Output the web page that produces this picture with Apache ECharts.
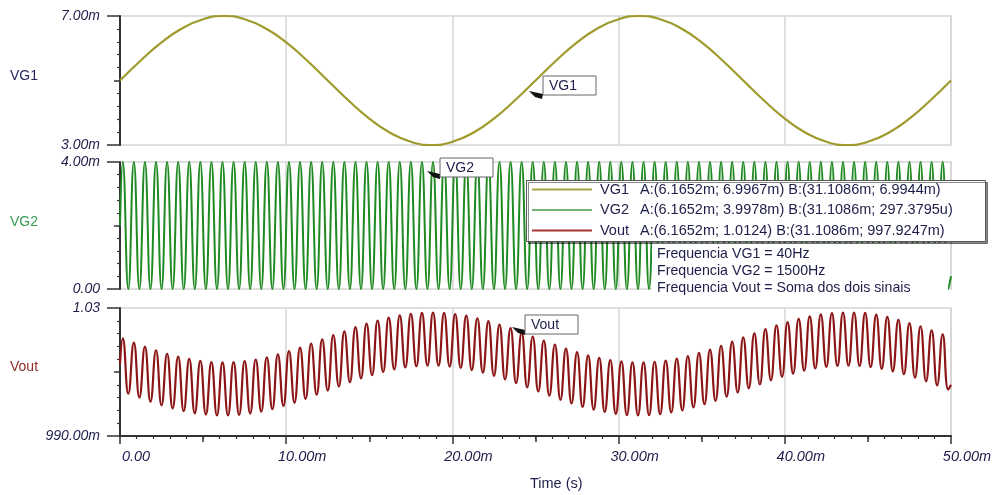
<!DOCTYPE html>
<html>
<head>
<meta charset="utf-8">
<script src="https://cdn.jsdelivr.net/npm/echarts@6/dist/echarts.min.js"></script>
<style>
  html, body { margin: 0; padding: 0; background: #ffffff; }
  #chart { width: 996px; height: 495px; }
</style>
</head>
<body>
<div id="chart"></div>
<script>
// ---- Transient analysis: VG1, VG2 and Vout (time in ms, voltages in mV) ----

// VG1 (40 Hz) sampled every 1.25 ms
const vg1Step = 1.25;
const vg1Values = [5.00, 5.62, 6.18, 6.62, 6.90, 7.00, 6.90, 6.62, 6.18, 5.62,
  5.00, 4.38, 3.82, 3.38, 3.10, 3.00, 3.10, 3.38, 3.82, 4.38,
  5.00, 5.62, 6.18, 6.62, 6.90, 7.00, 6.90, 6.62, 6.18, 5.62,
  5.00, 4.38, 3.82, 3.38, 3.10, 3.00, 3.10, 3.38, 3.82, 4.38, 5.00];

// VG2 (1500 Hz): start, then every crest / trough, then end
const vg2Values = [2,
  4, 0, 4, 0, 4, 0, 4, 0, 4, 0, 4, 0, 4, 0, 4, 0, 4, 0, 4, 0, 4, 0, 4, 0, 4, 0, 4, 0, 4, 0,
  4, 0, 4, 0, 4, 0, 4, 0, 4, 0, 4, 0, 4, 0, 4, 0, 4, 0, 4, 0, 4, 0, 4, 0, 4, 0, 4, 0, 4, 0,
  4, 0, 4, 0, 4, 0, 4, 0, 4, 0, 4, 0, 4, 0, 4, 0, 4, 0, 4, 0, 4, 0, 4, 0, 4, 0, 4, 0, 4, 0,
  4, 0, 4, 0, 4, 0, 4, 0, 4, 0, 4, 0, 4, 0, 4, 0, 4, 0, 4, 0, 4, 0, 4, 0, 4, 0, 4, 0, 4, 0,
  4, 0, 4, 0, 4, 0, 4, 0, 4, 0, 4, 0, 4, 0, 4, 0, 4, 0, 4, 0, 4, 0, 4, 0, 4, 0, 4, 0, 4, 0,
  0.4];

// Vout: same sampling instants as VG2
const voutValues = [1012.5,
  1020.5, 1003.2, 1019.2, 1002.0, 1017.9, 1000.7, 1016.8, 999.6, 1015.7, 998.6,
  1014.8, 997.8, 1014.1, 997.1, 1013.5, 996.7, 1013.1, 996.4, 1013.0, 996.4,
  1013.1, 996.6, 1013.4, 997.0, 1013.9, 997.6, 1014.6, 998.4, 1015.5, 999.4,
  1016.5, 1000.4, 1017.6, 1001.6, 1018.9, 1002.9, 1020.2, 1004.2, 1021.5, 1005.5,
  1022.7, 1006.8, 1024.0, 1008.0, 1025.1, 1009.0, 1026.1, 1010.0, 1027.0, 1010.8,
  1027.7, 1011.4, 1028.2, 1011.8, 1028.5, 1012.0, 1028.6, 1012.0, 1028.5, 1011.7,
  1028.1, 1011.3, 1027.6, 1010.6, 1026.8, 1009.8, 1025.9, 1008.8, 1024.8, 1007.7,
  1023.7, 1006.5, 1022.4, 1005.2, 1021.1,
  1003.9, 1019.8, 1002.6, 1018.6, 1001.3, 1017.3, 1000.2, 1016.2, 999.1, 1015.2,
  998.2, 1014.4, 997.5, 1013.7, 996.9, 1013.3, 996.5, 1013.0, 996.4, 1013.0,
  996.5, 1013.2, 996.8, 1013.6, 997.3, 1014.2, 998.0, 1015.0, 998.9, 1016.0,
  999.9, 1017.0, 1001.0, 1018.2, 1002.3, 1019.5, 1003.6, 1020.8, 1004.9, 1022.1,
  1006.1, 1023.4, 1007.4, 1024.6, 1008.5, 1025.6, 1009.5, 1026.6, 1010.4, 1027.4,
  1011.1, 1028.0, 1011.6, 1028.4, 1011.9, 1028.6, 1012.0, 1028.6, 1011.9, 1028.5,
  1011.5, 1027.9, 1011.0, 1027.2, 1010.2, 1026.3, 1009.3, 1025.3, 1008.2, 1024.3,
  1007.1, 1023.0, 1005.8, 1021.8, 1004.5,
  1006.0];

// Axis ticks and labels
const timeMajorTicks = [0, 10, 20, 30, 40, 50];
const timeMidTicks = [5, 15, 25, 35, 45];
const timeTickLabels = ['0.00', '10.00m', '20.00m', '30.00m', '40.00m', '50.00m'];

const vg1Ticks = { min: 3, max: 7, major: [3, 7], mid: [5],
  minor: [3.4, 3.8, 4.2, 4.6, 5.4, 5.8, 6.2, 6.6], labels: ['3.00m', '7.00m'] };
const vg2Ticks = { min: 0, max: 4, major: [0, 4], mid: [2],
  minor: [0.4, 0.8, 1.2, 1.6, 2.4, 2.8, 3.2, 3.6], labels: ['0.00', '4.00m'] };
const voutTicks = { min: 990, max: 1030, major: [990, 1030], mid: [1010],
  minor: [994, 998, 1002, 1006, 1014, 1018, 1022, 1026], labels: ['990.00m', '1.03'] };

// Sampling instants (ms)
const tEnd = 50;
const vg1Times = vg1Values.map((_, i) => i * vg1Step);
const rippleTimes = [0];
for (let k = 0; k < vg2Values.length - 2; k++) rippleTimes.push(1 / 6 + k / 3);
rippleTimes.push(tEnd);

const pair = (times, vals) => vals.map((v, i) => [times[i], v]);

const FONT = '"Liberation Sans", Arial, sans-serif';
const TXT = '#1e1e4a';
const GRID_GRAY = '#d5d5d5';
const AXIS_DARK = '#333333';

const grids = [
  { left: 120, right: 45, top: 16, height: 129, show: true, borderColor: GRID_GRAY, borderWidth: 1.5 },
  { left: 120, right: 45, top: 162, height: 127, show: true, borderColor: GRID_GRAY, borderWidth: 1.5 },
  { left: 120, right: 45, top: 308, height: 128, show: true, borderColor: GRID_GRAY, borderWidth: 1.5 }
];

const xAxes = [];
[0, 1].forEach(g => xAxes.push({
  type: 'value', gridIndex: g, min: 0, max: tEnd, interval: 10, position: 'bottom',
  axisLine: { show: false }, axisTick: { show: false }, axisLabel: { show: false },
  splitLine: { show: true, lineStyle: { color: GRID_GRAY, width: 1.5 } }
}));
xAxes.push({
  type: 'value', gridIndex: 2, min: 0, max: tEnd, interval: 10, position: 'bottom',
  axisLine: { show: true, onZero: false, lineStyle: { color: AXIS_DARK, width: 2 } },
  axisTick: { show: true, length: 8, lineStyle: { color: AXIS_DARK, width: 1.5 } },
  minorTick: { show: true, splitNumber: 10, length: 3, lineStyle: { color: AXIS_DARK, width: 1.2 } },
  axisLabel: {
    show: true, margin: 13, color: TXT, fontFamily: FONT, fontSize: 14.5, fontStyle: 'italic',
    padding: [0, 0, 0, 32],
    formatter: v => timeTickLabels[timeMajorTicks.indexOf(v)] || ''
  },
  splitLine: { show: true, lineStyle: { color: GRID_GRAY, width: 1.5 } }
});
xAxes.push({
  type: 'value', gridIndex: 2, min: 0, max: tEnd, position: 'bottom', offset: 0,
  axisLine: { show: false, onZero: false },
  axisTick: { show: true, length: 6, customValues: timeMidTicks, lineStyle: { color: AXIS_DARK, width: 1.5 } },
  axisLabel: { show: false }, splitLine: { show: false }
});

const yAxes = [];
[vg1Ticks, vg2Ticks, voutTicks].forEach((t, g) => {
  yAxes.push({
    type: 'value', gridIndex: g, min: t.min, max: t.max, position: 'left',
    axisLine: { show: true, lineStyle: { color: AXIS_DARK, width: 2 } },
    axisTick: { show: true, length: 13, customValues: t.major, lineStyle: { color: AXIS_DARK, width: 1.5 } },
    axisLabel: {
      show: true, margin: 20, customValues: t.major, color: TXT, fontFamily: FONT,
      fontSize: 14, fontStyle: 'italic',
      formatter: v => t.labels[t.major.indexOf(v)] || ''
    },
    splitLine: { show: false }
  });
  yAxes.push({
    type: 'value', gridIndex: g, min: t.min, max: t.max, position: 'left', offset: 0,
    axisLine: { show: false },
    axisTick: { show: true, length: 6, customValues: t.mid, lineStyle: { color: AXIS_DARK, width: 1.5 } },
    axisLabel: { show: false }, splitLine: { show: false }
  });
  yAxes.push({
    type: 'value', gridIndex: g, min: t.min, max: t.max, position: 'left', offset: 0,
    axisLine: { show: false },
    axisTick: { show: true, length: 3, customValues: t.minor, lineStyle: { color: AXIS_DARK, width: 1.2 } },
    axisLabel: { show: false }, splitLine: { show: false }
  });
});

const C_VG1 = '#9e9b2c', C_VG2 = '#1f8a22', C_VOUT = '#8c1616';

const series = [
  { name: 'VG1', type: 'line', xAxisIndex: 0, yAxisIndex: 0, data: pair(vg1Times, vg1Values),
    smooth: 0.5, showSymbol: false, clip: false, lineStyle: { color: C_VG1, width: 2.2 } },
  { name: 'VG2', type: 'line', xAxisIndex: 1, yAxisIndex: 3, data: pair(rippleTimes, vg2Values),
    smooth: 0.5, showSymbol: false, clip: false, lineStyle: { color: C_VG2, width: 2 } },
  { name: 'Vout', type: 'line', xAxisIndex: 2, yAxisIndex: 6, data: pair(rippleTimes, voutValues),
    smooth: 0.5, showSymbol: false, clip: false, lineStyle: { color: C_VOUT, width: 2.2 } }
];

// Overlay: trace names, tags, cursor readout box and notes
const txt = (text, x, y, fill, size, extra) => Object.assign({
  type: 'text', z: 102,
  style: { text, x, y, fill, font: size + 'px ' + FONT, verticalAlign: 'middle', align: 'left' }
}, extra || {});

const tag = (label, bx, by, arrow) => [
  { type: 'polygon', z: 101, shape: { points: arrow }, style: { fill: '#111111' } },
  { type: 'rect', z: 101, shape: { x: bx, y: by, width: 53, height: 19 },
    style: { fill: '#ffffff', stroke: '#666666', lineWidth: 1 } },
  txt(label, bx + 6, by + 10, TXT, 14)
];

const readouts = [
  ['VG1', 'A:(6.1652m; 6.9967m) B:(31.1086m; 6.9944m)', '#a8a346'],
  ['VG2', 'A:(6.1652m; 3.9978m) B:(31.1086m; 297.3795u)', '#72b372'],
  ['Vout', 'A:(6.1652m; 1.0124) B:(31.1086m; 997.9247m)', '#a83434']
];
const notes = ['Frequencia VG1 = 40Hz', 'Frequencia VG2 = 1500Hz', 'Frequencia Vout = Soma dos dois sinais'];

const graphic = [
  txt('VG1', 10, 76, '#26265a', 14),
  txt('VG2', 10, 222, '#3a9a55', 14),
  txt('Vout', 10, 367, '#8e2a2a', 14),
  txt('Time (s)', 530, 484, TXT, 14.5),
  ...tag('VG1', 543, 76, [[529, 91], [543, 94], [542, 99], [535, 97]]),
  ...tag('VG2', 440, 158, [[427, 171], [440, 174], [440, 179], [433, 177]]),
  ...tag('Vout', 525, 315, [[512, 327], [525, 330], [525, 335], [518, 333]]),
  { type: 'rect', z: 100, shape: { x: 652, y: 243, width: 296, height: 53 }, style: { fill: '#ffffff' } },
  { type: 'rect', z: 100, shape: { x: 526.5, y: 180.5, width: 459, height: 61 },
    style: { fill: '#ffffff', stroke: '#555555', lineWidth: 1,
      shadowColor: 'rgba(0,0,0,0.45)', shadowOffsetX: 2, shadowOffsetY: 2, shadowBlur: 0 } }
];
readouts.forEach((r, i) => {
  const y = 189.5 + i * 20.5;
  graphic.push({ type: 'line', z: 101, shape: { x1: 532, y1: y, x2: 592, y2: y },
    style: { stroke: r[2], lineWidth: 2 } });
  graphic.push(txt(r[0], 600, y, TXT, 14.5));
  graphic.push(txt(r[1], 640, y, TXT, 14.5));
});
notes.forEach((n, i) => graphic.push(txt(n, 657, 254 + i * 17, TXT, 14.2)));

const chart = echarts.init(document.getElementById('chart'), null, { renderer: 'canvas' });
chart.setOption({
  animation: false,
  backgroundColor: '#ffffff',
  grid: grids,
  xAxis: xAxes,
  yAxis: yAxes,
  series,
  graphic
});
</script>
</body>
</html>
